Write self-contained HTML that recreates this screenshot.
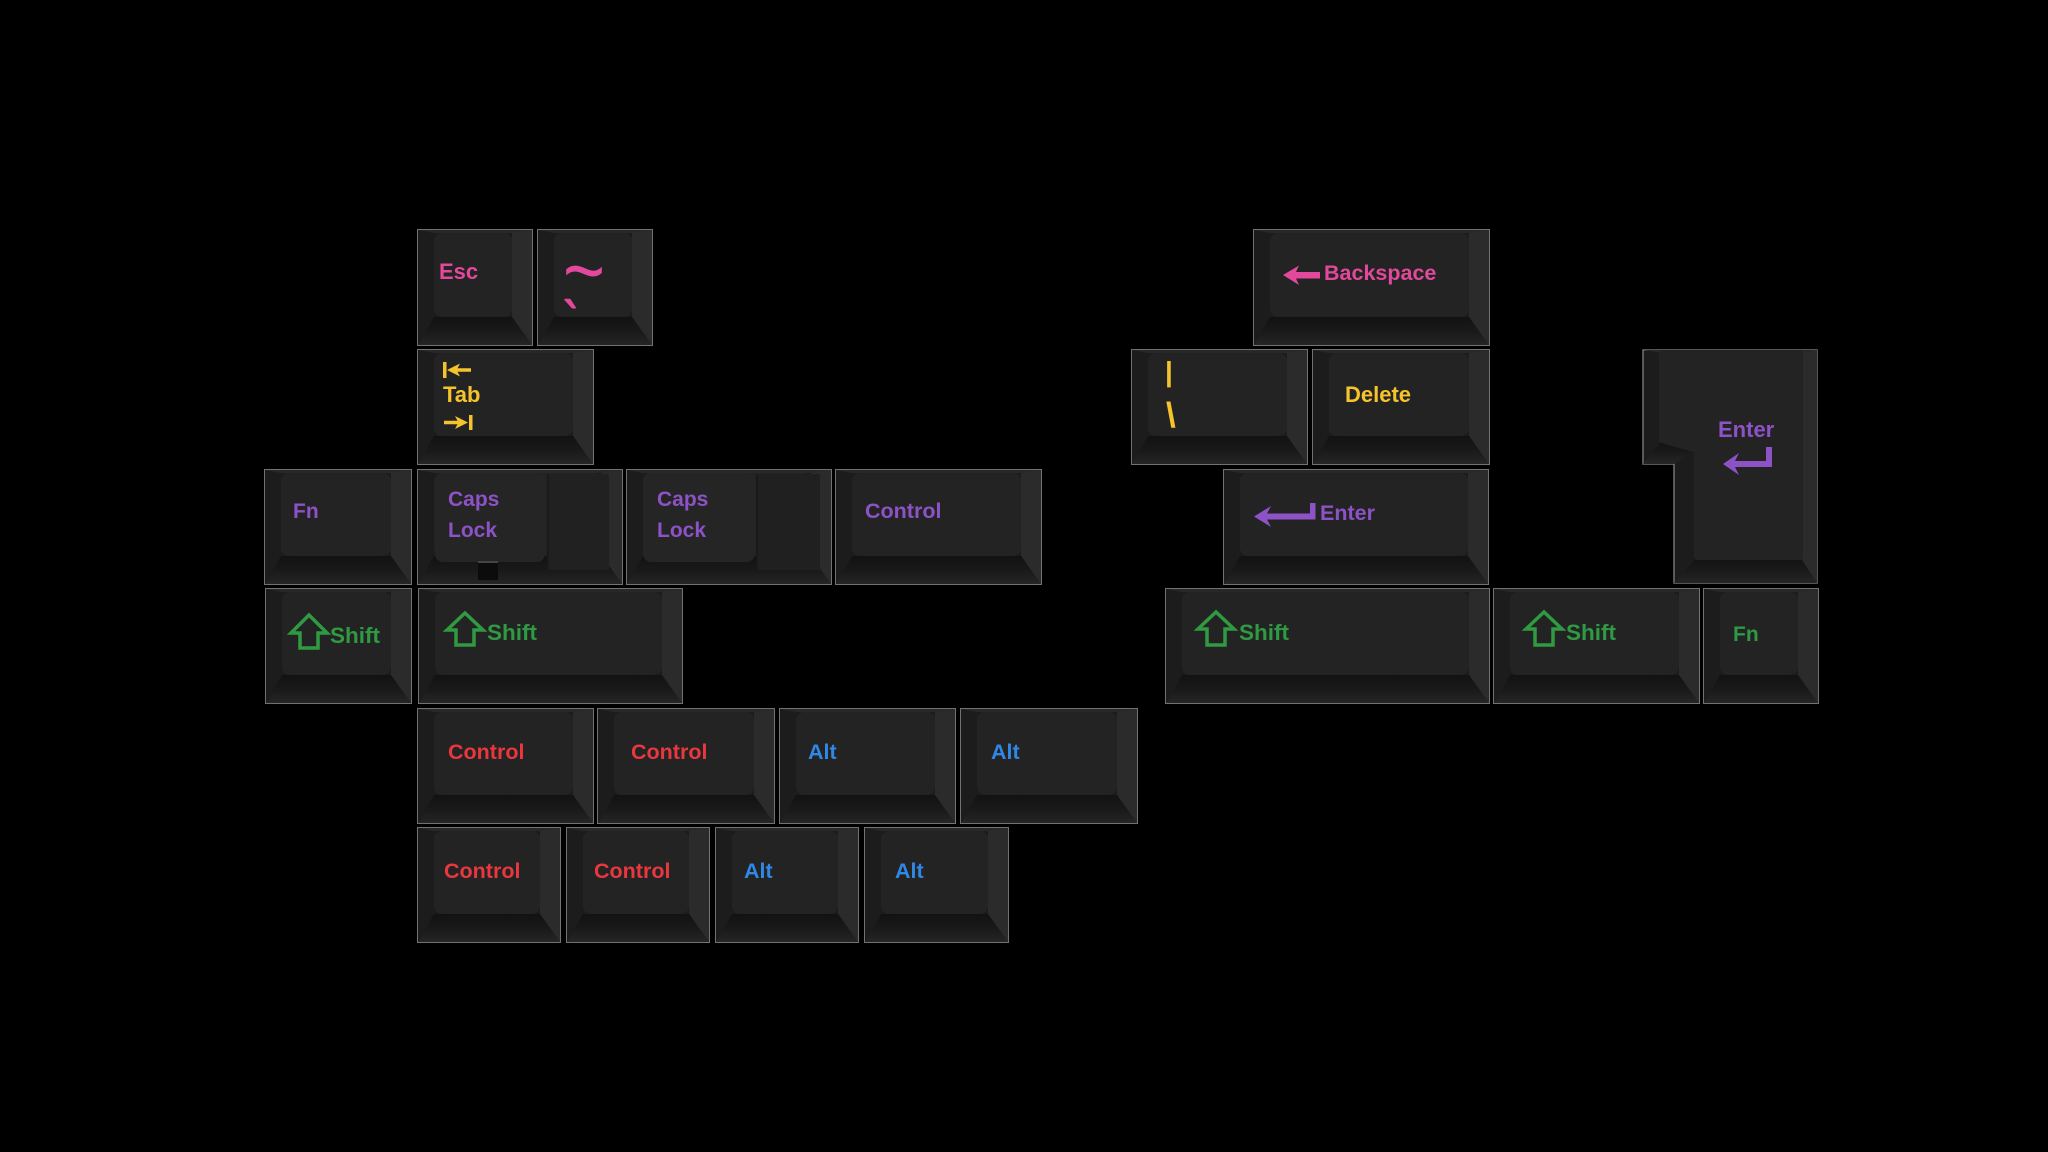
<!DOCTYPE html>
<html><head><meta charset="utf-8">
<style>
html,body{margin:0;padding:0;background:#000;}
body{width:2048px;height:1152px;position:relative;overflow:hidden;}
.k{position:absolute;box-sizing:border-box;border-style:solid;border-width:3px 20px 28px 16px;
border-color:#282828 #2b2b2b #1a1a1a #1c1c1c;background:#1c1c1c;box-shadow:0 0 0 1px #727272;}
.k::before{content:"";position:absolute;left:-16px;right:-20px;bottom:-28px;height:28px;
background:linear-gradient(#121212,#191919 50%,#252525);
clip-path:polygon(16px 0,calc(100% - 20px) 0,100% 100%,0 100%);}
.k::after{content:"";position:absolute;left:0;top:0;right:0;bottom:0;background:#232323;border-radius:8px;}
.t{position:absolute;font-family:"Liberation Sans",Arial,sans-serif;font-weight:bold;line-height:1;white-space:nowrap;}
.pk{color:#e2489b}.yl{color:#f5c32c}.pu{color:#8c52c6}.gr{color:#2f9a42}.rd{color:#e8373e}.bl{color:#2f87e6}
.ov{position:absolute;}
svg{position:absolute;left:0;top:0;}
</style></head><body>

<!-- Row 1 -->
<div class="k" style="left:418px;top:230px;width:114px;height:115px"></div>
<div class="k" style="left:538px;top:230px;width:114px;height:115px"></div>
<div class="k" style="left:1254px;top:230px;width:235px;height:115px"></div>
<!-- Row 2 -->
<div class="k" style="left:418px;top:350px;width:175px;height:114px"></div>
<div class="k" style="left:1132px;top:350px;width:175px;height:114px"></div>
<div class="k" style="left:1313px;top:350px;width:176px;height:114px"></div>
<!-- Row 3 -->
<div class="k" style="left:265px;top:470px;width:146px;height:114px"></div>
<div class="k" style="left:418px;top:470px;width:204px;height:114px"></div>
<div class="k" style="left:627px;top:470px;width:204px;height:114px"></div>
<div class="k" style="left:836px;top:470px;width:205px;height:114px"></div>
<div class="k" style="left:1224px;top:470px;width:264px;height:114px"></div>
<!-- Row 4 -->
<div class="k" style="left:266px;top:589px;width:145px;height:114px"></div>
<div class="k" style="left:419px;top:589px;width:263px;height:114px"></div>
<div class="k" style="left:1166px;top:589px;width:323px;height:114px"></div>
<div class="k" style="left:1494px;top:589px;width:205px;height:114px"></div>
<div class="k" style="left:1704px;top:589px;width:114px;height:114px"></div>
<!-- Row 5 -->
<div class="k" style="left:418px;top:709px;width:175px;height:114px"></div>
<div class="k" style="left:598px;top:709px;width:176px;height:114px"></div>
<div class="k" style="left:780px;top:709px;width:175px;height:114px"></div>
<div class="k" style="left:961px;top:709px;width:176px;height:114px"></div>
<!-- Row 6 -->
<div class="k" style="left:418px;top:828px;width:142px;height:114px"></div>
<div class="k" style="left:567px;top:828px;width:142px;height:114px"></div>
<div class="k" style="left:716px;top:828px;width:142px;height:114px"></div>
<div class="k" style="left:865px;top:828px;width:143px;height:114px"></div>

<!-- Caps lock stepped details -->
<div class="ov" style="left:547px;top:474px;width:60px;height:96px;background:#212121;border-left:2px solid #1a1a1a;"></div>
<div class="ov" style="left:435px;top:473px;width:110px;height:89px;background:#252525;border-radius:8px;"></div>
<div class="ov" style="left:478px;top:561px;width:20px;height:17px;background:#0c0c0c;border-top:2px solid #444;"></div>
<div class="ov" style="left:756px;top:474px;width:62px;height:96px;background:#202020;border-left:2px solid #1a1a1a;"></div>
<div class="ov" style="left:643px;top:473px;width:112px;height:89px;background:#252525;border-radius:8px;"></div>

<svg width="2048" height="1152" viewBox="0 0 2048 1152">
  <!-- ISO Enter -->
  <path d="M1643,350 H1817 V583 H1674 V464 H1643 Z" fill="#1c1c1c" stroke="#727272" stroke-width="1.5"/>
  <polygon points="1643,350 1817,350 1800,353 1662,353" fill="#282828"/>
  <polygon points="1817,350 1817,583 1800,557 1800,353" fill="#2b2b2b"/>
  <defs><linearGradient id="bg" x1="0" y1="0" x2="0" y2="1"><stop offset="0" stop-color="#121212"/><stop offset="0.5" stop-color="#191919"/><stop offset="1" stop-color="#252525"/></linearGradient></defs>
  <polygon points="1674,583 1817,583 1800,557 1697,557" fill="url(#bg)"/>
  <polygon points="1643,464 1674,464 1697,450 1662,440" fill="url(#bg)"/>
  <polygon points="1662,353 1800,353 1800,557 1697,557 1697,450 1662,440" fill="#232323" stroke="#232323" stroke-width="6" stroke-linejoin="round"/>

  <!-- Tab arrows -->
  <g fill="#f5c32c">
    <rect x="443" y="362" width="3.5" height="16"/>
    <polygon points="447,370 460,363.5 457.5,368.3 471,368.3 471,371.7 457.5,371.7 460,376.5"/>
    <rect x="469" y="415" width="3.5" height="15"/>
    <polygon points="468,422.5 455,416 457.5,420.8 444,420.8 444,424.2 457.5,424.2 455,429"/>
  </g>
  <!-- Backspace arrow -->
  <polygon fill="#e2489b" points="1283,275 1299,265.5 1296,272 1320,272 1320,278.5 1296,278.5 1299,285"/>
  <!-- Enter arrows -->
  <polygon fill="#8c52c6" points="1254,516.5 1271,506 1267,513.5 1310,513.5 1310,503 1315.5,503 1315.5,519.5 1267,519.5 1271,527"/>
  <polygon fill="#8c52c6" points="1723,464 1739,453 1735,461 1766,461 1766,447 1772,447 1772,467 1735,467 1739,475"/>
  <!-- Shift arrows -->
  <g fill="none" stroke="#2f9a42" stroke-width="3.5" stroke-linejoin="miter">
    <polygon points="309,615 327,633 318,633 318,648 300,648 300,633 291,633"/>
    <polygon points="465,613 483,630 474,630 474,645 456,645 456,630 447,630"/>
    <polygon points="1216,612 1234,629 1225,629 1225,645 1207,645 1207,629 1198,629"/>
    <polygon points="1544,612 1562,629 1553,629 1553,645 1535,645 1535,629 1526,629"/>
  </g>
</svg>

<!-- Labels -->
<span class="t pk" style="left:439px;top:261.4px;font-size:22px">Esc</span>
<span class="t pk" style="left:563px;top:234.7px;font-size:72px;font-weight:normal;transform:scale(1,1.2);transform-origin:0 35.7px">~</span>
<span class="t pk" style="left:563px;top:292px;font-size:46px;transform:scaleY(1.35);transform-origin:0 0">`</span>
<span class="t pk" style="left:1324px;top:262.8px;font-size:21.5px">Backspace</span>

<span class="t yl" style="left:443px;top:384.4px;font-size:22px">Tab</span>
<span class="t yl" style="left:1165px;top:358.3px;font-size:28px">|</span>
<span class="t yl" style="left:1166px;top:398.4px;font-size:35px">\</span>
<span class="t yl" style="left:1345px;top:384.4px;font-size:22px">Delete</span>

<span class="t pu" style="left:293px;top:501.2px;font-size:21px">Fn</span>
<span class="t pu" style="left:448px;top:489.2px;font-size:21px">Caps</span>
<span class="t pu" style="left:448px;top:520.2px;font-size:21px">Lock</span>
<span class="t pu" style="left:657px;top:489.2px;font-size:21px">Caps</span>
<span class="t pu" style="left:657px;top:520.2px;font-size:21px">Lock</span>
<span class="t pu" style="left:865px;top:500.8px;font-size:21.5px">Control</span>
<span class="t pu" style="left:1320px;top:502.8px;font-size:21.5px">Enter</span>
<span class="t pu" style="left:1718px;top:419.4px;font-size:22px">Enter</span>

<span class="t gr" style="left:330px;top:625px;font-size:22.5px">Shift</span>
<span class="t gr" style="left:487px;top:621.5px;font-size:22.5px">Shift</span>
<span class="t gr" style="left:1239px;top:622px;font-size:22.5px">Shift</span>
<span class="t gr" style="left:1566px;top:622px;font-size:22.5px">Shift</span>
<span class="t gr" style="left:1733px;top:624.2px;font-size:21px">Fn</span>

<span class="t rd" style="left:448px;top:741.8px;font-size:21.5px">Control</span>
<span class="t rd" style="left:631px;top:741.8px;font-size:21.5px">Control</span>
<span class="t bl" style="left:808px;top:741.8px;font-size:21.5px">Alt</span>
<span class="t bl" style="left:991px;top:741.8px;font-size:21.5px">Alt</span>

<span class="t rd" style="left:444px;top:860.8px;font-size:21.5px">Control</span>
<span class="t rd" style="left:594px;top:860.8px;font-size:21.5px">Control</span>
<span class="t bl" style="left:744px;top:860.8px;font-size:21.5px">Alt</span>
<span class="t bl" style="left:895px;top:860.8px;font-size:21.5px">Alt</span>

</body></html>
